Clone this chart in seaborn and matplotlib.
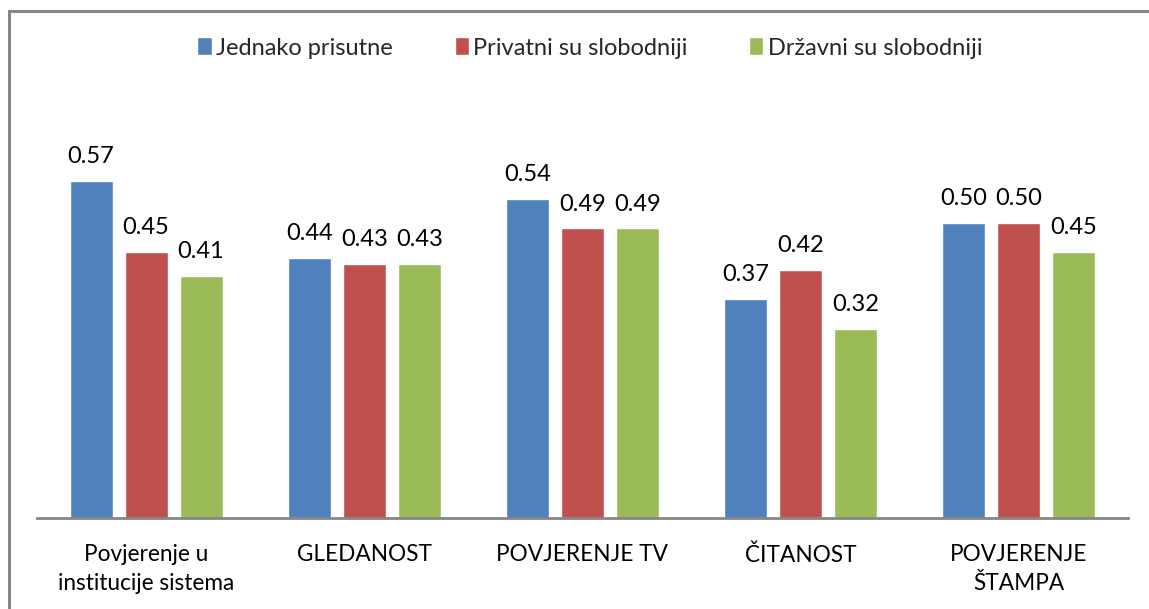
import matplotlib
matplotlib.use("Agg")
import matplotlib.pyplot as plt
import seaborn as sns
import pandas as pd
from matplotlib.patches import Rectangle

categories = ["Povjerenje u\ninstitucije sistema", "GLEDANOST", "POVJERENJE TV",
              "ČITANOST", "POVJERENJE\nŠTAMPA"]
series = ["Jednako prisutne", "Privatni su slobodniji", "Državni su slobodniji"]
jednako = [0.57, 0.44, 0.54, 0.37, 0.50]
privatni = [0.45, 0.43, 0.49, 0.42, 0.50]
drzavni = [0.41, 0.43, 0.49, 0.32, 0.45]
colors = ["#4F81BD", "#C0504D", "#9BBB59"]

df = pd.DataFrame({
    "kategorija": categories * 3,
    "serija": [s for s in series for _ in categories],
    "vrijednost": jednako + privatni + drzavni,
})

sns.set_theme(style="white")
plt.rcParams["font.family"] = ["Lato", "DejaVu Sans"]

fig = plt.figure(figsize=(11.49, 6.09), dpi=100)
ax = fig.add_axes([0.0322, 0.1494, 0.9495, 0.7026])

sns.barplot(data=df, x="kategorija", y="vrijednost", hue="serija",
            order=categories, hue_order=series, palette=colors,
            width=0.756, gap=0.22, saturation=1, errorbar=None, ax=ax)

for cont in ax.containers:
    ax.bar_label(cont, fmt="%.2f", padding=10, fontsize=17, color="#000000")

ax.set_xlim(-0.5, 4.5)
ax.set_ylim(0, 0.724)
ax.set_xlabel("")
ax.set_ylabel("")
ax.set_yticks([])
for side in ["top", "right", "left"]:
    ax.spines[side].set_visible(False)
ax.spines["bottom"].set_color("#868686")
ax.spines["bottom"].set_linewidth(2)
ax.tick_params(axis="x", length=0, pad=19, labelsize=16.3, colors="#000000")
for lbl in ax.get_xticklabels():
    lbl.set_linespacing(1.42)

leg = ax.legend(loc="center", ncol=3, frameon=False, fontsize=17,
                handlelength=0.6, handleheight=0.8, handletextpad=0.2,
                columnspacing=2.6)
leg.set_bbox_to_anchor((0.5135, 1 - 48 / 609), transform=fig.transFigure)

# outer chart frame
fig.patches.append(Rectangle((8.5 / 1149, -0.1), 1.2, 1 - 10.5 / 609 + 0.1,
                             transform=fig.transFigure, fill=False,
                             edgecolor="#868686", linewidth=2.2))

fig.savefig("out.png", dpi=100)
